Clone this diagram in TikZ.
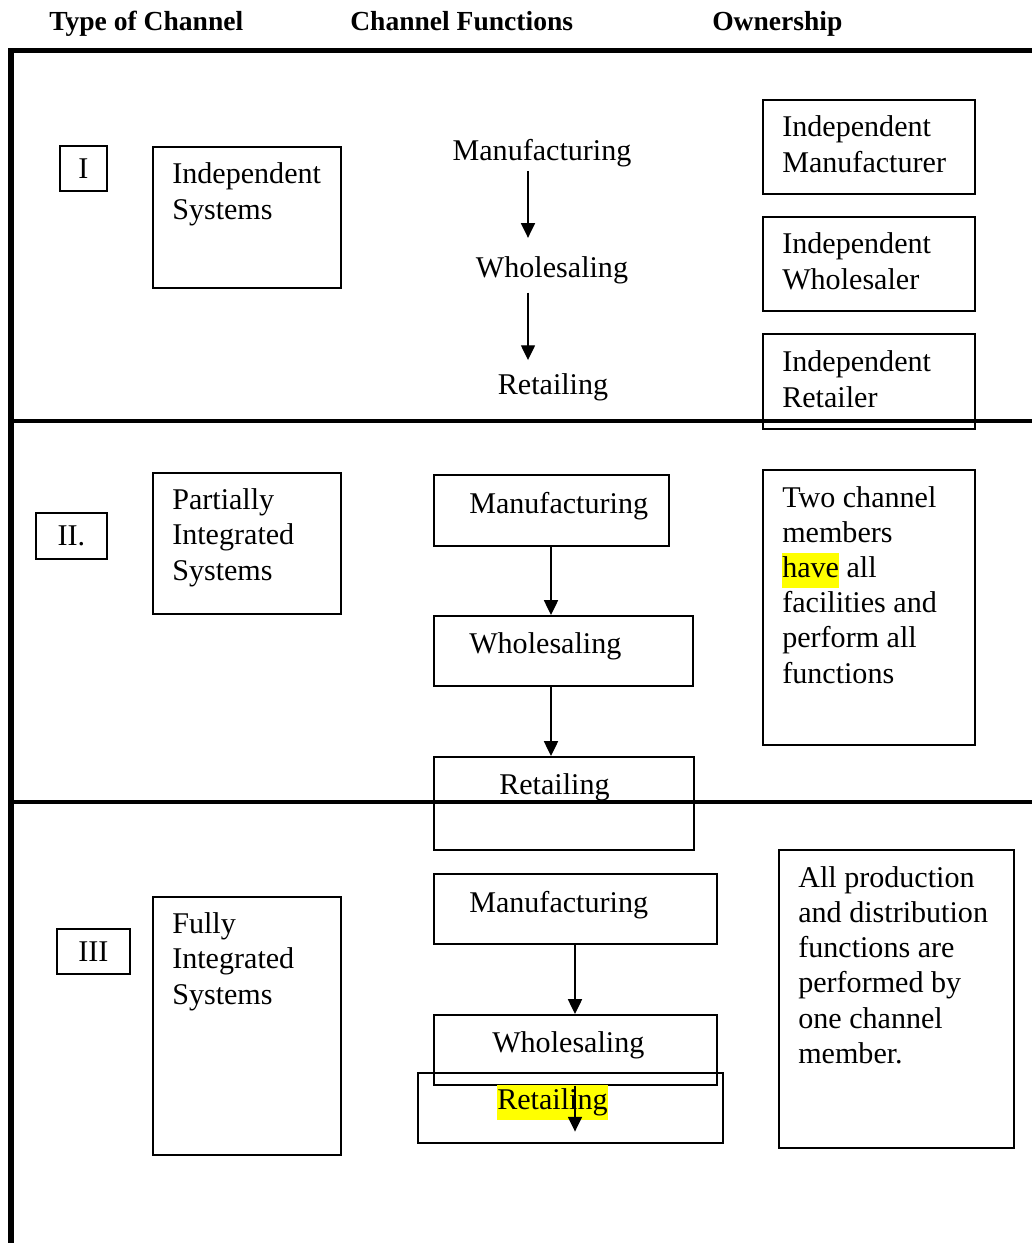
\documentclass[tikz,border=0pt]{standalone}
\usepackage{fontspec}
\setmainfont{Liberation Serif}
\usepackage{tikz}
\usetikzlibrary{arrows.meta,positioning}
\usepackage{xcolor}
\definecolor{hlyellow}{RGB}{255,255,0}
\newcommand{\bodyfont}{\fontsize{21.4}{24.9}\selectfont}
\newcommand{\headfont}{\fontsize{19.6}{22}\selectfont\bfseries}
\newcommand{\hly}[1]{{\setlength{\fboxsep}{0pt}\colorbox{hlyellow}{\strut #1}}}
\tikzstyle{box} = [rectangle, draw, line width=1.1pt, anchor=north west, inner sep=0pt, font=\bodyfont]
% multi-line texts sit on the baseline of their last line
\tikzstyle{boxtext} = [anchor=base west, align=left, inner sep=0pt, font=\bodyfont]
\tikzstyle{flowtext} = [anchor=base, inner sep=0pt, font=\bodyfont]
\tikzstyle{head} = [anchor=base west, inner sep=0pt, font=\headfont]
\tikzstyle{arrow} = [line width=1pt, -{Triangle[length=10.5pt,width=10pt]}]
\tikzstyle{frame} = [line width=3.7pt, line join=miter]
\tikzstyle{divider} = [line width=3.2pt]

\begin{document}
\begin{tikzpicture}[x=0.025cm, y=-0.025cm]
\useasboundingbox (0,0) rectangle (1032,1243);

% Headings
\node (headtype) [head] at (49,30) {Type of Channel};
\node (headfunc) [head] at (350,30) {Channel Functions};
\node (headown) [head] at (712,30) {Ownership};

% I. Independent systems
\node (numI) [box, minimum width=1.175cm, minimum height=1.125cm] at (59,145) {I};
\node (sysI) [box, minimum width=4.7cm, minimum height=3.525cm] at (152,146) {};
\node (sysItext) [boxtext] at (172,219) {Independent\\Systems};
\node (mfgI) [flowtext] at (542,160) {Manufacturing};
\node (whsI) [flowtext] at (552,277) {Wholesaling};
\node (retI) [flowtext] at (553,394) {Retailing};
\node (ownIa) [box, minimum width=5.3cm, minimum height=2.35cm] at (762,99) {};
\node (ownIatext) [boxtext] at (782,172) {Independent\\Manufacturer};
\node (ownIb) [box, minimum width=5.3cm, minimum height=2.35cm] at (762,216) {};
\node (ownIbtext) [boxtext] at (782,289) {Independent\\Wholesaler};
\node (ownIc) [box, minimum width=5.3cm, minimum height=2.375cm] at (762,333) {};
\node (ownIctext) [boxtext] at (782,407) {Independent\\Retailer};

\draw[arrow, shorten <=0.1cm, shorten >=0.45cm] (mfgI.south -| 528,0) -- (whsI.north -| 528,0);
\draw[arrow, shorten <=0.22cm, shorten >=0.32cm] (whsI.south -| 528,0) -- (retI.north -| 528,0);

% II. Partially integrated systems
\node (numII) [box, minimum width=1.775cm, minimum height=1.15cm] at (35,512) {II.};
\node (sysII) [box, minimum width=4.7cm, minimum height=3.525cm] at (152,472) {};
\node (sysIItext) [boxtext] at (172,580) {Partially\\Integrated\\Systems};
\node (mfgII) [box, minimum width=5.875cm, minimum height=1.775cm] at (433,474) {};
\node (mfgIItext) [boxtext] at (469,513) {Manufacturing};
\node (whsII) [box, minimum width=6.475cm, minimum height=1.75cm] at (433,615) {};
\node (whsIItext) [boxtext] at (469,653) {Wholesaling};
\node (retII) [box, minimum width=6.5cm, minimum height=2.325cm] at (433,756) {};
\node (retIItext) [boxtext] at (499,794) {Retailing};
\node (ownII) [box, minimum width=5.3cm, minimum height=6.875cm] at (762,469) {};
\node (ownIItext) [boxtext] at (782,683) {Two channel\\members\\\hly{have} all\\facilities and\\perform all\\functions};

\draw[arrow] (mfgII.south -| 551,0) -- (whsII.north -| 551,0);
\draw[arrow] (whsII.south -| 551,0) -- (retII.north -| 551,0);

% III. Fully integrated systems
\node (numIII) [box, minimum width=1.825cm, minimum height=1.125cm] at (56,928) {III};
\node (sysIII) [box, minimum width=4.7cm, minimum height=6.45cm] at (152,896) {};
\node (sysIIItext) [boxtext] at (172,1004) {Fully\\Integrated\\Systems};
\node (mfgIII) [box, minimum width=7.075cm, minimum height=1.75cm] at (433,873) {};
\node (mfgIIItext) [boxtext] at (469,912) {Manufacturing};
\node (whsIII) [box, minimum width=7.075cm, minimum height=1.75cm] at (433,1014) {};
\node (whsIIItext) [boxtext] at (492,1052) {Wholesaling};
\node (retIII) [box, minimum width=7.625cm, minimum height=1.75cm] at (417,1072) {};
\node (retIIItext) [boxtext] at (497,1109) {\hly{Retailing}};
\node (ownIII) [box, minimum width=5.875cm, minimum height=7.45cm] at (778,849) {};
\node (ownIIItext) [boxtext] at (798,1063) {All production\\and distribution\\functions are\\performed by\\one channel\\member.};

\draw[arrow] (mfgIII.south -| 575,0) -- (whsIII.north -| 575,0);
\draw[arrow, shorten >=0.3cm] (whsIII.south -| 575,0) -- (retIII.south -| 575,0);

% Frame and dividers
\draw[frame] (1032,50.5) -- (11,50.5) -- (11,1243);
\draw[divider] (11,421) -- (1032,421);
\draw[divider] (11,802) -- (1032,802);
\end{tikzpicture}
\end{document}
